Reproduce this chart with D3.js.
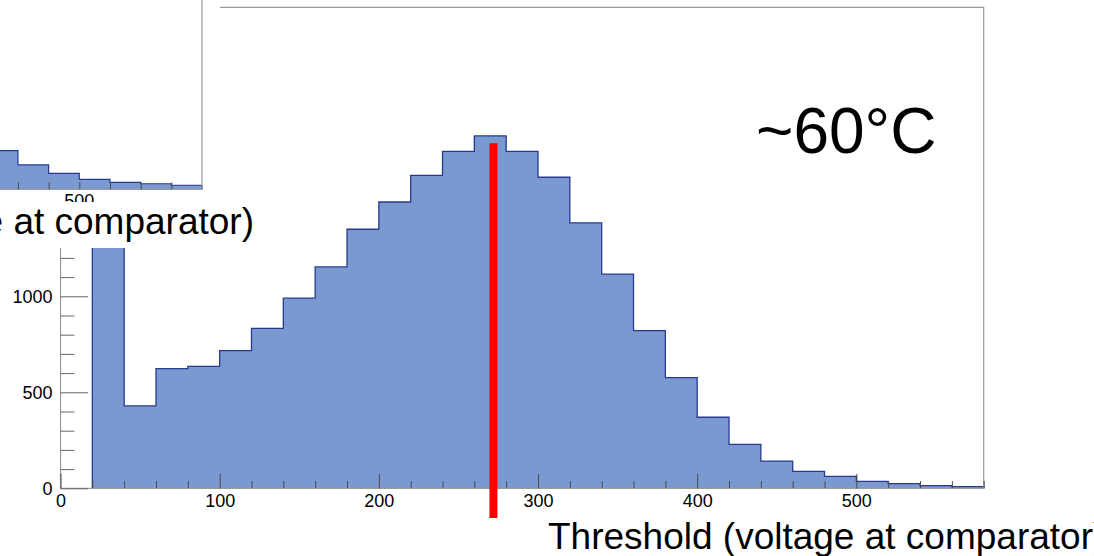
<!DOCTYPE html>
<html>
<head>
<meta charset="utf-8">
<script src="https://cdn.jsdelivr.net/npm/d3@7"></script>
<style>
  html, body { margin: 0; padding: 0; background: #fff; }
  svg { display: block; font-family: "Liberation Sans", Arial, sans-serif; }
</style>
</head>
<body>
<svg id="chart" width="1094" height="556"></svg>
<script>
// main histogram: lower bin edges (width 20) and counts
const binLow = [20, 40, 60, 80, 100, 120, 140, 160, 180, 200, 220, 240, 260, 280,
                300, 320, 340, 360, 380, 400, 420, 440, 460, 480, 500, 520, 540, 560];
const counts = [2100, 429, 623, 635, 717, 833, 990, 1153, 1349, 1491, 1630, 1755, 1835, 1755,
                1620, 1382, 1115, 821, 576, 370, 229, 142, 88, 62, 36, 24, 14, 9];
const binWidth = 20;

// axis ticks
const xMajor = [0, 100, 200, 300, 400, 500];
const yMajor = [0, 500, 1000, 1500, 2000];

// red marker line (threshold value, count range it spans)
const markerX = 272;
const markerRange = [-155, 1797];

// piece of the neighbouring plot that overlaps top-left
const insetLow = [440, 460, 480, 500, 520, 540, 560];
const insetCounts = [201, 127, 83, 52, 36, 29, 21];
const insetTicks = [460, 480, 500, 520, 540, 560];
const insetLabels = [500];

const tempLabel = "~60°C";
const xTitle = "Threshold (voltage at comparator)";

const svg = d3.select("#chart");
const fill = "#7b99d1", edge = "#283a8e", frameCol = "#9a9a9a", tickCol = "#4a4a4a";
const fontFam = "Liberation Sans, Arial, sans-serif";

let x = d3.scaleLinear().domain([0, 580]).range([60.5, 983.7]);
let y = d3.scaleLinear().domain([0, 2505]).range([488.3, 7.3]);

let bins = binLow.map((d, i) => ({low: d, count: counts[i]}));
let last = bins[bins.length - 1];
let stepData = bins.concat([{low: last.low + binWidth, count: last.count}]);

// fill
let area = d3.area().curve(d3.curveStepAfter)
    .x(d => x(d.low)).y0(y(0)).y1(d => y(d.count));
svg.append("path").datum(stepData)
    .attr("d", area).attr("fill", fill);

// outline incl. end verticals
let outline = [{low: binLow[0], count: 0}].concat(stepData, [{low: last.low + binWidth, count: 0}]);
svg.append("path").datum(outline)
    .attr("d", d3.line().curve(d3.curveStepAfter).x(d => x(d.low)).y(d => y(d.count)))
    .attr("fill", "none").attr("stroke", edge).attr("stroke-width", 1.3);

// frame
let [x0, x1] = x.range(), [yb, yt] = y.range();
svg.append("path")
    .attr("d", `M${x0},${yb}V${yt}H${x1}V${yb}H${x0}`)
    .attr("fill", "none").attr("stroke", frameCol).attr("stroke-width", 1.2);

// x axis, ticks pointing up
let xMinor = d3.range(0, 581, 20).filter(v => !xMajor.includes(v));
let gx = svg.append("g").attr("transform", `translate(0,${yb})`);
gx.call(d3.axisBottom(x).tickValues(xMajor).tickSize(-14.4).tickPadding(6)
    .tickSizeOuter(0).tickFormat(d3.format("d")));
gx.append("g").call(d3.axisBottom(x).tickValues(xMinor).tickSize(-7.2).tickFormat(""));
gx.selectAll(".domain").remove();
gx.selectAll("line").attr("stroke", tickCol);
gx.selectAll("text").filter(function() { return this.textContent === ""; }).remove();
gx.selectAll("text").attr("font-size", 18).attr("fill", "#000").attr("font-family", fontFam);

// y axis, ticks pointing right
let yMinor = d3.range(0, 2501, 100).filter(v => !yMajor.includes(v));
let gy = svg.append("g").attr("transform", `translate(${x0},0)`);
gy.call(d3.axisLeft(y).tickValues(yMajor).tickSize(-27.7).tickPadding(8)
    .tickSizeOuter(0).tickFormat(d3.format("d")));
gy.append("g").call(d3.axisLeft(y).tickValues(yMinor).tickSize(-13.9).tickFormat(""));
gy.selectAll(".domain").remove();
gy.selectAll("line").attr("stroke", "#666");
gy.selectAll("text").filter(function() { return this.textContent === ""; }).remove();
gy.selectAll("text").attr("font-size", 18).attr("fill", "#000").attr("font-family", fontFam);

// red threshold marker
svg.append("line")
    .attr("x1", x(markerX)).attr("x2", x(markerX))
    .attr("y1", y(markerRange[0])).attr("y2", y(markerRange[1]))
    .attr("stroke", "#ff0000").attr("stroke-width", 8);

// temperature tag
svg.append("text").attr("x", 756).attr("y", 153)
    .attr("font-size", 64).attr("fill", "#000").text(tempLabel);

// x title, runs off the right edge
svg.append("text").attr("x", 548).attr("y", 549)
    .attr("font-size", 37).attr("fill", "#000").text(xTitle);

// ---- overlapping neighbour panel (top-left) ----
let ins = svg.append("g");
svg.append("clipPath").attr("id", "insClip")
  .append("rect").attr("x", 0).attr("y", 0).attr("width", 220).attr("height", 202);
ins.append("rect").attr("x", 0).attr("y", 0).attr("width", 220).attr("height", 202).attr("fill", "#fff");

let ix = d3.scaleLinear().domain([500, 580]).range([79.3, 202]);
let iy = d3.scaleLinear().domain([0, 1000]).range([189.3, -2.7]);
let ib = insetLow.map((d, i) => ({low: d, count: insetCounts[i]}));
let il = ib[ib.length - 1];
let iStep = ib.concat([{low: il.low + binWidth, count: il.count}]);
let ic = ins.append("g").attr("clip-path", "url(#insClip)");
ic.append("path").datum(iStep)
    .attr("d", d3.area().curve(d3.curveStepAfter).x(d => ix(d.low)).y0(iy(0)).y1(d => iy(d.count)))
    .attr("fill", fill);
ic.append("path").datum(iStep.concat([{low: il.low + binWidth, count: 0}]))
    .attr("d", d3.line().curve(d3.curveStepAfter).x(d => ix(d.low)).y(d => iy(d.count)))
    .attr("fill", "none").attr("stroke", edge).attr("stroke-width", 1.2);
ic.append("path")
    .attr("d", `M0,${iy(0)}H${ix(580)}V0`)
    .attr("fill", "none").attr("stroke", frameCol).attr("stroke-width", 1.2);
let gix = ic.append("g").attr("transform", `translate(0,${iy(0)})`)
    .call(d3.axisBottom(ix).tickValues(insetTicks).tickSize(-7).tickSizeOuter(0).tickFormat(""));
gix.selectAll(".domain").remove();
gix.selectAll("text").remove();
gix.selectAll("line").attr("stroke", tickCol);
// its one visible tick label, half hidden under the title strip
ic.selectAll("text.ilab").data(insetLabels).join("text").attr("class", "ilab")
    .attr("x", d => ix(d)).attr("y", iy(0) + 5).attr("dy", "0.71em")
    .attr("text-anchor", "middle").attr("font-size", 18).attr("fill", "#000")
    .text(d => d);

// its x title strip, clipped on the left
ins.append("rect").attr("x", 0).attr("y", 202).attr("width", 262).attr("height", 46).attr("fill", "#fff");
ins.append("text").attr("x", 254).attr("y", 234).attr("text-anchor", "end")
    .attr("font-size", 37).attr("fill", "#000").text(xTitle);
</script>
</body>
</html>
